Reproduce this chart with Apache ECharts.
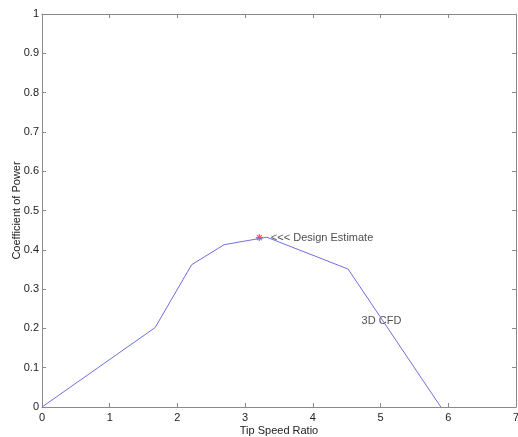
<!DOCTYPE html>
<html>
<head>
<meta charset="utf-8">
<script src="https://cdn.jsdelivr.net/npm/echarts@6/dist/echarts.min.js"></script>
<style>
  html, body { margin: 0; padding: 0; background: #fff; }
  #chart { width: 518px; height: 437px; }
</style>
</head>
<body>
<div id="chart"></div>
<script>
// 3D CFD curve, tip speed ratio vs coefficient of power
var tipSpeedRatio = [0, 1.67, 2.21, 2.69, 3.32, 4.52, 5.89];
var powerCoeff = [0, 0.202, 0.362, 0.413, 0.432, 0.351, 0];

// design estimate marker
var designPoint = [3.21, 0.431];

// text annotations: [x, y, text]
var notes = [
  [3.38, 0.431, '<<< Design Estimate'],
  [4.72, 0.22, '3D CFD']
];

var axisColor = '#8a8a8a';
var textColor = '#222';
var fontFamily = 'Liberation Sans, Arial, sans-serif';

var chart = echarts.init(document.getElementById('chart'));

var curve = [];
for (var i = 0; i < tipSpeedRatio.length; i++) {
  curve.push([tipSpeedRatio[i], powerCoeff[i]]);
}

function boxAxis(extra) {
  var ax = {
    type: 'value',
    splitLine: { show: false },
    nameMoveOverlap: false,
    axisLine: { show: true, onZero: false, lineStyle: { color: axisColor, width: 1 } },
    axisTick: { show: true, inside: true, length: 4, lineStyle: { color: axisColor } },
    axisLabel: { color: textColor, fontSize: 11, fontFamily: fontFamily },
    nameTextStyle: { color: textColor, fontSize: 11, fontFamily: fontFamily }
  };
  for (var k in extra) ax[k] = extra[k];
  return ax;
}

chart.setOption({
  animation: false,
  backgroundColor: '#fff',
  grid: { left: 42, right: 2, top: 14, bottom: 30, containLabel: false, outerBoundsMode: 'none' },
  xAxis: [
    boxAxis({ position: 'bottom', min: 0, max: 7, interval: 1,
      name: 'Tip Speed Ratio', nameLocation: 'middle', nameGap: 18,
      axisLabel: { color: textColor, fontSize: 11, fontFamily: fontFamily, margin: 5 } }),
    boxAxis({ position: 'top', min: 0, max: 7, interval: 1,
      axisLabel: { show: false } })
  ],
  yAxis: [
    boxAxis({ position: 'left', min: 0, max: 1, interval: 0.1,
      name: 'Coefficient of Power', nameLocation: 'middle', nameGap: 20,
      axisLabel: { color: textColor, fontSize: 11, fontFamily: fontFamily, margin: 3 } }),
    boxAxis({ position: 'right', min: 0, max: 1, interval: 0.1,
      axisLabel: { show: false } })
  ],
  series: [
    {
      name: '3D CFD',
      type: 'line',
      data: curve,
      symbol: 'none',
      lineStyle: { color: '#6f6fe0', width: 1 }
    },
    {
      name: 'Design Estimate',
      type: 'scatter',
      data: [designPoint],
      symbol: 'path://M4,0L4,8M0,4L8,4M1.2,1.2L6.8,6.8M6.8,1.2L1.2,6.8',
      symbolSize: 7,
      itemStyle: { color: 'none', borderColor: '#ff2a2a', borderWidth: 1.2 }
    },
    {
      type: 'scatter',
      data: notes,
      symbolSize: 0,
      label: {
        show: true,
        position: 'right',
        distance: 0,
        color: textColor,
        fontSize: 11,
        fontFamily: fontFamily,
        formatter: function(p) { return p.data[2]; }
      }
    }
  ]
});
</script>
</body>
</html>
